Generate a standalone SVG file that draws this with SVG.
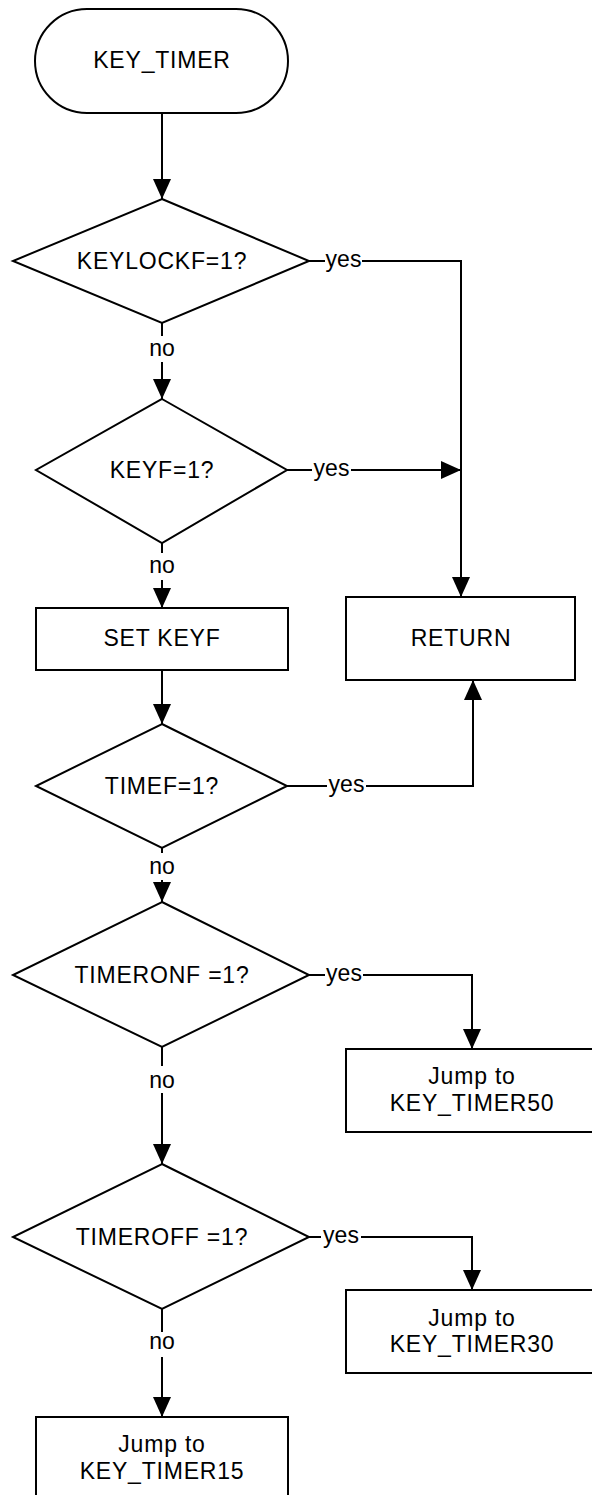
<svg xmlns="http://www.w3.org/2000/svg" width="592" height="1495" viewBox="0 0 592 1495">
<style>
.shape{fill:#fff;stroke:#000;stroke-width:2}
.conn{fill:none;stroke:#000;stroke-width:2}
.t{font-family:"Liberation Sans",Arial,sans-serif;font-size:23px;fill:#000;text-anchor:middle;letter-spacing:0.8px}
.l{font-family:"Liberation Sans",Arial,sans-serif;font-size:23px;fill:#000;text-anchor:middle}
</style>
<defs>
<marker id="arr" markerUnits="userSpaceOnUse" markerWidth="20" markerHeight="18" refX="20" refY="9" orient="auto">
<path d="M0,0 L20,9 L0,18 z" fill="#000"/>
</marker>
</defs>
<rect width="592" height="1495" fill="#fff"/>
<g id="connectors">
<line class="conn" x1="162" y1="113" x2="162" y2="199" marker-end="url(#arr)"/>
<polyline class="conn" points="309,261 325,261"/>
<text class="l" x="343.5" y="267">yes</text>
<polyline class="conn" points="362,261 461,261 461,597" marker-end="url(#arr)"/>
<line class="conn" x1="162" y1="323" x2="162" y2="336"/>
<text class="l" x="162" y="356">no</text>
<line class="conn" x1="162" y1="362" x2="162" y2="399" marker-end="url(#arr)"/>
<line class="conn" x1="287" y1="470" x2="312" y2="470"/>
<text class="l" x="331.5" y="476">yes</text>
<line class="conn" x1="351" y1="470" x2="461" y2="470" marker-end="url(#arr)"/>
<line class="conn" x1="162" y1="543" x2="162" y2="553"/>
<text class="l" x="162" y="573">no</text>
<line class="conn" x1="162" y1="580" x2="162" y2="608" marker-end="url(#arr)"/>
<line class="conn" x1="162" y1="670" x2="162" y2="724" marker-end="url(#arr)"/>
<line class="conn" x1="287" y1="786" x2="327" y2="786"/>
<text class="l" x="346.5" y="792">yes</text>
<polyline class="conn" points="366,786 473,786 473,680" marker-end="url(#arr)"/>
<line class="conn" x1="162" y1="848" x2="162" y2="853"/>
<text class="l" x="162" y="874">no</text>
<line class="conn" x1="162" y1="880" x2="162" y2="902" marker-end="url(#arr)"/>
<line class="conn" x1="309" y1="975" x2="325" y2="975"/>
<text class="l" x="344" y="981">yes</text>
<polyline class="conn" points="363,975 472,975 472,1049" marker-end="url(#arr)"/>
<line class="conn" x1="162" y1="1047" x2="162" y2="1066"/>
<text class="l" x="162" y="1088">no</text>
<line class="conn" x1="162" y1="1093" x2="162" y2="1164" marker-end="url(#arr)"/>
<line class="conn" x1="309" y1="1237" x2="321" y2="1237"/>
<text class="l" x="341" y="1243">yes</text>
<polyline class="conn" points="361,1237 472,1237 472,1290" marker-end="url(#arr)"/>
<line class="conn" x1="162" y1="1309" x2="162" y2="1332"/>
<text class="l" x="162" y="1349">no</text>
<line class="conn" x1="162" y1="1357" x2="162" y2="1417" marker-end="url(#arr)"/>
</g>
<g id="start">
<rect class="shape" x="35" y="9" width="253" height="104" rx="52" ry="52"/>
<text class="t" x="162" y="68">KEY_TIMER</text>
</g>
<g id="d_keylockf">
<polygon class="shape" points="162,199 309,261 162,323 13,261"/>
<text class="t" x="162" y="269">KEYLOCKF=1?</text>
</g>
<g id="d_keyf">
<polygon class="shape" points="162,399 287,470 162,543 36,470"/>
<text class="t" x="162" y="478">KEYF=1?</text>
</g>
<g id="set_keyf">
<rect class="shape" x="36" y="608" width="252" height="62"/>
<text class="t" x="162" y="646">SET KEYF</text>
</g>
<g id="return">
<rect class="shape" x="346" y="597" width="229" height="83"/>
<text class="t" x="461" y="646">RETURN</text>
</g>
<g id="d_timef">
<polygon class="shape" points="162,724 287,786 162,848 36,786"/>
<text class="t" x="162" y="794">TIMEF=1?</text>
</g>
<g id="d_timeronf">
<polygon class="shape" points="162,902 309,975 162,1047 13,975"/>
<text class="t" x="162" y="983">TIMERONF =1?</text>
</g>
<g id="jump50">
<rect class="shape" x="346" y="1049" width="252" height="83"/>
<text class="t" x="472" y="1084">Jump to</text>
<text class="t" x="472" y="1111">KEY_TIMER50</text>
</g>
<g id="d_timeroff">
<polygon class="shape" points="162,1164 309,1237 162,1309 13,1237"/>
<text class="t" x="162" y="1245">TIMEROFF =1?</text>
</g>
<g id="jump30">
<rect class="shape" x="346" y="1290" width="252" height="83"/>
<text class="t" x="472" y="1326">Jump to</text>
<text class="t" x="472" y="1352">KEY_TIMER30</text>
</g>
<g id="jump15">
<rect class="shape" x="36" y="1417" width="252" height="90"/>
<text class="t" x="162" y="1452">Jump to</text>
<text class="t" x="162" y="1479">KEY_TIMER15</text>
</g>
</svg>
